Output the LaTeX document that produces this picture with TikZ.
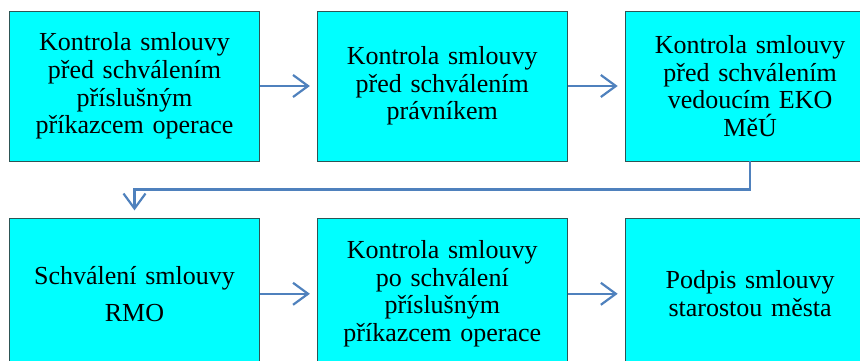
\documentclass[tikz,border=0pt]{standalone}
\usepackage{fontspec}
\setmainfont{Liberation Serif}
\usetikzlibrary{positioning, arrows.meta}

\definecolor{stagefill}{RGB}{0,255,255}
\definecolor{stageedge}{RGB}{45,85,85}
\definecolor{flowblue}{RGB}{79,129,189}

\begin{document}
\begin{tikzpicture}[
  stage/.style={draw=stageedge, fill=stagefill, line width=0.8pt,
                minimum width=250pt, minimum height=150pt, inner sep=0pt,
                text width=245pt, align=center,
                font=\fontsize{26}{27.7}\selectfont},
  arr/.style={-{Straight Barb[length=15pt, width=22pt]}, line width=2.2pt,
              color=flowblue, shorten >=7pt},
]
\useasboundingbox (0,0) rectangle (860pt,-360pt);

% --- First row ---
\node[stage] (k1) at (134.5pt,-86pt)
  {Kontrola smlouvy\\před schválením\\příslušným\\příkazcem operace};
\node[stage, right=57pt of k1] (k2)
  {Kontrola smlouvy\\před schválením\\právníkem};
\node[stage, right=57pt of k2] (k3)
  {Kontrola smlouvy\\před schválením\\vedoucím EKO\\MěÚ};

% --- Second row ---
\node[stage, below=57pt of k1] (s1) {Schválení smlouvy\\[9pt]RMO};
\node[stage, right=57pt of s1] (s2)
  {Kontrola smlouvy\\po schválení\\příslušným\\příkazcem operace};
\node[stage, right=57pt of s2] (s3) {Podpis smlouvy\\starostou města};

% --- Arrows ---
\draw[arr] (k1) -- (k2);
\draw[arr] (k2) -- (k3);
\draw[arr, shorten >=8pt] (k3.south) -- ++(0,-28pt) -| (s1.north);
\draw[arr] (s1) -- (s2);
\draw[arr] (s2) -- (s3);

\end{tikzpicture}
\end{document}
